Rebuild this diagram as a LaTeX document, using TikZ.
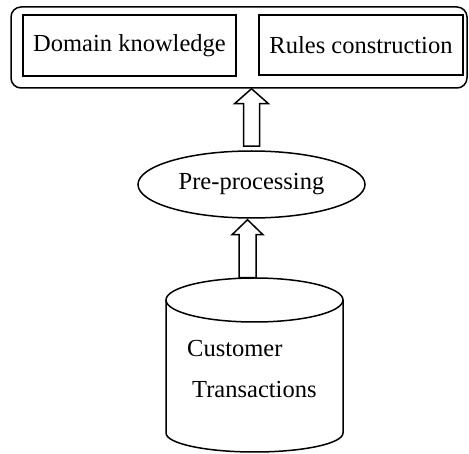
\documentclass[tikz,border=0pt]{standalone}
\usepackage{fontspec}
\setmainfont{Liberation Serif}
\usetikzlibrary{shapes.geometric,calc}
\begin{document}
\begin{tikzpicture}[x=1pt,y=-1pt,
  line/.style={line width=1.5pt,line join=miter},
  lbl/.style={font=\fontsize{24.5}{28}\selectfont},
  boxnode/.style={line,draw,rectangle,inner sep=0pt,lbl},
  blockarrow/.style={line,draw,fill=white,line join=miter}]
\useasboundingbox (0,0) rectangle (469,454);
% outer group
\node[line,draw,rectangle,rounded corners=10pt,inner sep=0pt,minimum width=456pt,minimum height=81pt] (group) at (239,47.5) {};
\node[boxnode,minimum width=213pt,minimum height=61pt] (dk) at (129.5,45.5) {Domain knowledge};
\node[boxnode,minimum width=204pt,minimum height=60pt] (rc) at (361,45) {Rules construction};
% pre-processing
\node[line,draw,ellipse,inner sep=0pt,minimum width=227pt,minimum height=67pt,lbl] (pp) at (251.5,184.5) {Pre-processing};
% cylinder
\coordinate (cyl) at (254.5,300);
\draw[line] (166,300) -- (166,433) arc[start angle=180,end angle=360,x radius=88.5,y radius=-19] -- (343,300);
\draw[line] (cyl) ellipse[x radius=88.5,y radius=22];
\node[lbl,anchor=base west,inner sep=0pt] (cust) at (187,357) {Customer};
\node[lbl,anchor=base west,inner sep=0pt] (trans) at (192,398) {Transactions};
% arrow from pre-processing to group
\coordinate (t1) at ($(group.south)+(12.5,0)$);
\coordinate (b1) at (t1 |- pp.north);
\draw[blockarrow] ($(b1)+(-8,-4)$) -- ($(t1)+(-8,15)$) -- ($(t1)+(-17,15)$) -- (t1) -- ($(t1)+(17,15)$) -- ($(t1)+(8,15)$) -- ($(b1)+(8,-4)$) -- cycle;
% arrow from cylinder to pre-processing
\coordinate (t2) at ($(pp.south)+(-4,1)$);
\draw[blockarrow] ($(t2)+(-8.5,58)$) -- ($(t2)+(-8.5,15)$) -- ($(t2)+(-15.5,15)$) -- (t2) -- ($(t2)+(15.5,15)$) -- ($(t2)+(8.5,15)$) -- ($(t2)+(8.5,58)$) -- cycle;
\end{tikzpicture}
\end{document}
